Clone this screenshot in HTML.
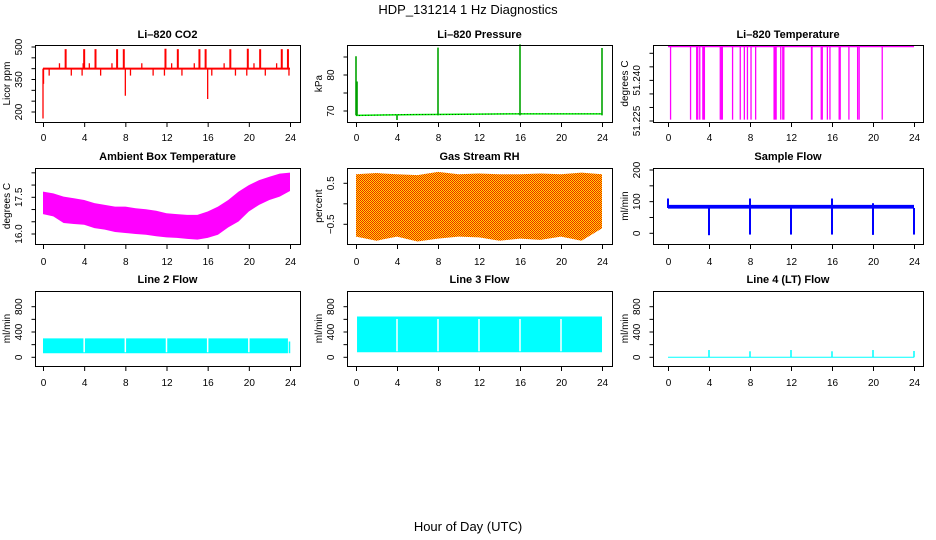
<!DOCTYPE html>
<html><head><meta charset="utf-8"><style>
html,body{margin:0;padding:0;background:#fff}
svg{display:block}
text{font-family:"Liberation Sans",Arial,sans-serif}
</style></head><body>
<svg id="c" width="936" height="540" viewBox="0 0 936 540" xmlns="http://www.w3.org/2000/svg">
<defs>
<pattern id="rhpat" width="2" height="2" patternUnits="userSpaceOnUse">
<rect width="2" height="2" fill="#ffe000"/><rect width="1" height="1" fill="#f02000"/><rect x="1" y="1" width="1" height="1" fill="#f02000"/>
</pattern>
</defs>
<text x="468" y="14" font-size="13" text-anchor="middle">HDP_131214  1 Hz Diagnostics</text>
<text x="468" y="531" font-size="13" text-anchor="middle">Hour of Day (UTC)</text>
</svg>
<script>
// ---- data ----
const xTicks=[0,4,8,12,16,20,24];
const co2Base=400;
const co2SpikeHours=[2.2,4.0,5.1,7.2,7.85,11.9,13.1,15.2,15.8,18.2,19.9,21.1,23.2,23.8,1.6,3.9,4.5,6.7,9.6,12.5,14.7,17.6,20.5,22.7,0.6,2.75,3.8,5.6,8.5,10.7,11.8,13.5,16.4,18.7,19.8,21.6,23.9,0.0,0.05,8.0,16.0];
const co2SpikeVals=[490,490,490,490,490,492,490,490,490,490,492,490,490,490,425,425,425,425,425,425,425,425,425,425,368,368,368,368,368,368,368,368,368,368,368,368,368,170,330,275,260];
const presHours=[0,5.7,15,24];
const presVals=[68.8,69.0,69.2,69.2];
const presSpikeHours=[0.0,0.1,8.0,16.0,24.0,4.0];
const presSpikeVals=[85.2,78.2,87.6,88.5,87.5,67.5];
const tempTop=51.2525;
const tempLow=51.2255;
const tempDipHours=[0.25,2.2,2.8,2.9,3.1,3.4,3.5,3.55,5.1,5.2,5.3,6.3,7.05,7.45,7.75,8.1,8.55,10.35,10.45,10.55,11.0,11.2,11.3,14.0,14.05,14.95,15.05,15.55,15.8,16.7,16.8,17.65,18.5,18.65,20.9];
const ambHours=[0,1,2,3,4,5,6,7,8,9,10,11,12,13,14,15,16,17,18,19,20,21,22,23,24];
const ambMax=[17.73,17.66,17.53,17.46,17.39,17.26,17.19,17.12,17.12,17.05,17.01,16.95,16.85,16.81,16.78,16.78,16.92,17.12,17.39,17.73,18.0,18.2,18.34,18.47,18.51];
const ambMin=[16.81,16.72,16.45,16.41,16.38,16.24,16.18,16.08,16.04,16.0,15.97,15.91,15.86,15.84,15.8,15.77,15.84,15.97,16.27,16.51,16.92,17.19,17.39,17.53,17.76];
const rhHours=[0,2,4,6,8,10,12,14,16,18,20,22,24];
const rhMax=[0.72,0.75,0.72,0.7,0.78,0.72,0.74,0.72,0.72,0.74,0.72,0.76,0.72];
const rhMin=[-0.8,-0.9,-0.8,-0.92,-0.85,-0.8,-0.82,-0.9,-0.85,-0.88,-0.8,-0.9,-0.6];
const sfHours=[0,24];
const sfMax=[90,90];
const sfMin=[78,78];
const sfDipHours=[4,8,12,16,20,24];
const sfDipVals=[-6,-4,-4,-4,-5,-4];
const sfSpikeHours=[0,8,16,20];
const sfSpikeVals=[110,110,110,95];
const l2Hours=[0,23.8];
const l2Max=[300,300];
const l2Min=[65,65];
const l3Hours=[0.1,24];
const l3Max=[645,645];
const l3Min=[80,80];
const flowGaps=[4,8,12,16,20];
const l4SpikeHours=[4,8,12,16,20,24];
const l4SpikeVals=[115,95,115,95,115,100];

// ---- layout ----
const cols=[{bl:35,br:300,x0:43,x24:290},{bl:347,br:612,x0:356,x24:602},{bl:653,br:923,x0:668,x24:914}];
const rows=[{bt:45,bb:122,tick:137,title:38},{bt:168,bb:244,tick:261,title:160},{bt:291,bb:366,tick:382,title:283}];
const svg=document.getElementById('c');
const NS='http://www.w3.org/2000/svg';
function mk(tag,attrs,parent){const e=document.createElementNS(NS,tag);for(const k in attrs)e.setAttribute(k,attrs[k]);(parent||svg).appendChild(e);return e;}

function panel(name,c,r,title,ylab,ya,yb,va,vb,yTicks,yLabels,dec){
  const C=cols[c],R=rows[r];
  const g=mk('g',{});
  
  
  const X=h=>C.x0+h*(C.x24-C.x0)/24;
  const Y=v=>ya+(v-va)*(yb-ya)/(vb-va);
  const t=mk('text',{x:(C.bl+C.br)/2,y:R.title,'font-size':11,'font-weight':'bold','text-anchor':'middle'},g);
  t.textContent=title;
  
  
  const marks=mk('g',{},g);
  
  
  const box=mk('rect',{x:C.bl+0.5,y:R.bt+0.5,width:C.br-C.bl,height:R.bb-R.bt,fill:'none',stroke:'#000','stroke-width':1},g);
  
  
  const xa=mk('g',{},g);
  
  
  xTicks.forEach(h=>{
    mk('line',{x1:X(h)+0.5,x2:X(h)+0.5,y1:R.bb+0.5,y2:R.bb+5,stroke:'#000'},xa);
    const tx=mk('text',{x:X(h)+0.5,y:R.tick+4,'font-size':10,'text-anchor':'middle'},xa);
    tx.textContent=h;
    
    
  });
  const yaG=mk('g',{},g);
  
  
  const ax=C.bl+0.5;
  yTicks.forEach(v=>mk('line',{x1:ax-4,x2:ax,y1:Y(v),y2:Y(v),stroke:'#000'},yaG));
  const tlx=C.bl-13;
  yLabels.forEach(v=>{
    const tx=mk('text',{x:tlx,y:Y(v),'font-size':10,'text-anchor':'middle',transform:`rotate(-90 ${tlx} ${Y(v)})`},yaG);
    let s=dec?Math.abs(v).toFixed(dec):String(Math.abs(v));
    tx.textContent=(v<0?'\u2212':'')+s;
    
    
  });
  const ylx=C.bl-25;
  const yl=mk('text',{x:ylx,y:(R.bt+R.bb)/2,'font-size':10,'text-anchor':'middle',transform:`rotate(-90 ${ylx} ${(R.bt+R.bb)/2})`},g);
  yl.textContent=ylab;
  
  
  return {X,Y,g:marks};
}
function vline(p,h,v1,v2,col,w){mk('line',{x1:p.X(h),x2:p.X(h),y1:p.Y(v1),y2:p.Y(v2),stroke:col,'stroke-width':w||1.2},p.g);}
function band(p,hs,mx,mn,fill){
  let d='M'+hs.map((h,i)=>p.X(h)+','+p.Y(mx[i])).join('L');
  d+='L'+hs.map((h,i)=>p.X(h)+','+p.Y(mn[i])).reverse().join('L')+'Z';
  mk('path',{d,fill,stroke:'none'},p.g);
}

// CO2
let p=panel('co2',0,0,'Li\u2013820 CO2','Licor ppm',112,47,200,500,[200,250,300,350,400,450,500],[200,350,500]);
mk('line',{x1:p.X(0),x2:p.X(24),y1:p.Y(co2Base),y2:p.Y(co2Base),stroke:'#ff0000','stroke-width':2},p.g);
co2SpikeHours.forEach((h,i)=>vline(p,h,co2Base,co2SpikeVals[i],'#ff0000',i<14?2:1.3));

// Pressure
p=panel('pressure',1,0,'Li\u2013820 Pressure','kPa',111,75,70,80,[70,75,80,85],[70,80]);
mk('polyline',{points:presHours.map((h,i)=>p.X(h)+','+p.Y(presVals[i])).join(' '),fill:'none',stroke:'#00ee00','stroke-width':1.5},p.g);
mk('polyline',{points:presHours.map((h,i)=>p.X(h)+','+p.Y(presVals[i])).join(' '),fill:'none',stroke:'#000','stroke-width':0.6,'stroke-dasharray':'1 2'},p.g);
presSpikeHours.forEach((h,i)=>{vline(p,h,presVals[0],presSpikeVals[i],'#00ee00',1.6);vline(p,h,presVals[0],presSpikeVals[i],'#000',0.5);});

// Temperature
p=panel('li820-temp',2,0,'Li\u2013820 Temperature','degrees C',121,53.3,51.225,51.250,[51.225,51.23,51.235,51.24,51.245,51.25],[51.225,51.24],3);
mk('line',{x1:p.X(0),x2:p.X(24),y1:p.Y(tempTop),y2:p.Y(tempTop),stroke:'#ff00ff','stroke-width':1.5},p.g);
tempDipHours.forEach(h=>vline(p,h,tempTop,tempLow,'#ff00ff',1.3));

// Ambient
p=panel('ambient',0,1,'Ambient Box Temperature','degrees C',234,197.3,16,17.5,[16,16.5,17,17.5,18,18.5],[16,17.5],1);
band(p,ambHours,ambMax,ambMin,'#ff00ff');

// RH
p=panel('rh',1,1,'Gas Stream RH','percent',183.3,224.3,0.5,-0.5,[-0.5,0,0.5],[-0.5,0.5],1);
band(p,rhHours,rhMax,rhMin,'url(#rhpat)');

// Sample flow
p=panel('sample-flow',2,1,'Sample Flow','ml/min',233.3,170,0,200,[0,50,100,150,200],[0,100,200]);
band(p,sfHours,sfMax,sfMin,'#0000ff');
sfDipHours.forEach((h,i)=>vline(p,h,80,sfDipVals[i],'#0000ff',2));
sfSpikeHours.forEach((h,i)=>vline(p,h,80,sfSpikeVals[i],'#0000ff',2));

// Line 2
p=panel('line2-flow',0,2,'Line 2 Flow','ml/min',357.3,306.7,0,800,[0,200,400,600,800],[0,400,800]);
band(p,l2Hours,l2Max,l2Min,'#00ffff');
flowGaps.forEach(h=>vline(p,h,l2Max[0]+5,l2Min[0]+15,'#fff',1.5));
vline(p,23.95,l2Min[0],250,'#00ffff',1.5);

// Line 3
p=panel('line3-flow',1,2,'Line 3 Flow','ml/min',357.3,306.7,0,800,[0,200,400,600,800],[0,400,800]);
band(p,l3Hours,l3Max,l3Min,'#00ffff');
flowGaps.forEach(h=>vline(p,h,l3Max[0]-40,l3Min[0]+15,'#fff',1.5));

// Line 4
p=panel('line4-flow',2,2,'Line 4 (LT) Flow','ml/min',357.3,306.7,0,800,[0,200,400,600,800],[0,400,800]);
mk('line',{x1:p.X(0),x2:p.X(24),y1:p.Y(0),y2:p.Y(0),stroke:'#00ffff','stroke-width':1},p.g);
l4SpikeHours.forEach((h,i)=>vline(p,h,0,l4SpikeVals[i],'#00ffff',1.5));
</script>
</body></html>
